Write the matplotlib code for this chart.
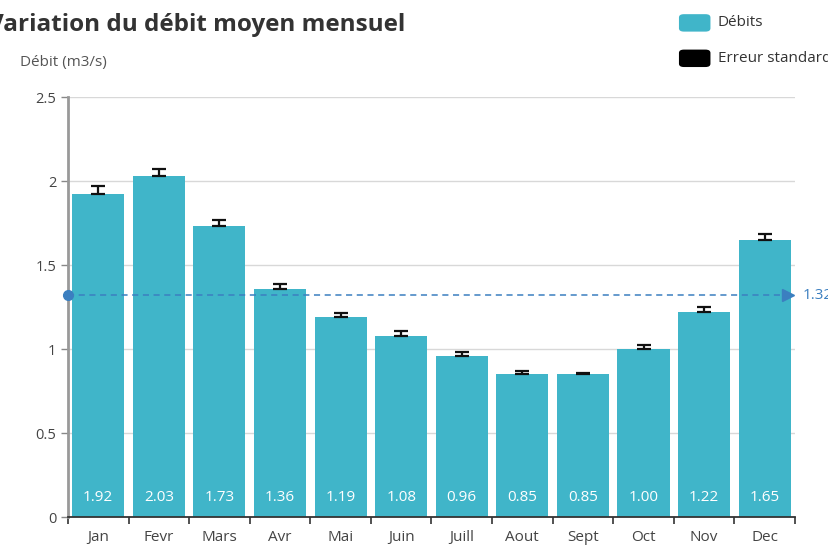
import matplotlib.pyplot as plt
import numpy as np
from matplotlib.patches import FancyBboxPatch

plt.rcParams['font.family'] = ['Open Sans', 'DejaVu Sans']

months = ["Jan", "Fevr", "Mars", "Avr", "Mai", "Juin", "Juill", "Aout", "Sept", "Oct", "Nov", "Dec"]
debits = [1.92, 2.03, 1.73, 1.36, 1.19, 1.08, 0.96, 0.85, 0.85, 1.00, 1.22, 1.65]
erreurs = [0.05, 0.04, 0.04, 0.03, 0.025, 0.03, 0.025, 0.02, 0.01, 0.025, 0.03, 0.035]

bar_color = "#40b5c9"
mean_color = "#3b7fc0"

fig = plt.figure(figsize=(8.29, 5.45), dpi=100)
ax = fig.add_axes([0.082, 0.051, 0.877, 0.771])

x = np.arange(len(months))
ax.bar(x, debits, width=0.86, color=bar_color, zorder=2)
ax.errorbar(x, debits, yerr=[np.zeros(len(erreurs)), erreurs], fmt="none",
            ecolor="#111111", elinewidth=1.6, capsize=5, capthick=1.6, zorder=3)

for xi, v in zip(x, debits):
    ax.text(xi, 0.07, f"{v:.2f}", ha="center", va="bottom", color="white", fontsize=11, zorder=4)

# moyenne
moy = np.mean(debits)
ax.plot([-0.5, 11.35], [moy, moy], ls=(0, (4, 3)), color=mean_color, lw=1.1, zorder=4, clip_on=False)
ax.plot(-0.5, moy, "o", color=mean_color, ms=7, zorder=5, clip_on=False)
ax.plot(11.38, moy, marker=">", color=mean_color, ms=9, zorder=5, clip_on=False)
ax.text(11.62, moy, f"{moy:.2f}", color=mean_color, fontsize=11, va="center", ha="left", clip_on=False)

ax.set_xlim(-0.5, 11.5)
ax.set_ylim(0, 2.5)
ax.set_yticks([0, 0.5, 1, 1.5, 2, 2.5])
ax.set_yticklabels(["0", "0.5", "1", "1.5", "2", "2.5"])
ax.set_xticks(x)
ax.set_xticklabels(months)
ax.set_xticks(np.arange(-0.5, 12, 1), minor=True)
ax.tick_params(axis="x", which="major", length=0, pad=9, labelsize=11, labelcolor="#444444")
ax.tick_params(axis="x", which="minor", length=5, width=1.2, color="#333333")
ax.tick_params(axis="y", length=5, width=1, color="#888888", labelsize=10.5, labelcolor="#444444")

ax.grid(axis="y", color="#d8d8d8", lw=1, zorder=0)
for s in ["top", "right"]:
    ax.spines[s].set_visible(False)
ax.spines["left"].set_color("#999999")
ax.spines["left"].set_linewidth(2)
ax.spines["bottom"].set_color("#333333")
ax.spines["bottom"].set_linewidth(1.3)

fig.text(-0.014, 0.955, "Variation du débit moyen mensuel", fontsize=17.5, fontweight="bold",
         color="#333333", ha="left", va="center")
fig.text(0.024, 0.885, "Débit (m3/s)", fontsize=11, color="#555555", ha="left", va="center")

# legende
for yy, col, lab in [(0.958, bar_color, "Débits"), (0.893, "black", "Erreur standard")]:
    p = FancyBboxPatch((0.819, yy - 0.016), 0.038, 0.032, boxstyle="round,pad=0,rounding_size=0.006",
                       transform=fig.transFigure, color=col, lw=0)
    fig.patches.append(p)
    fig.text(0.866, yy, lab, fontsize=11, color="#333333", ha="left", va="center")

fig.savefig("out.png", dpi=100)
